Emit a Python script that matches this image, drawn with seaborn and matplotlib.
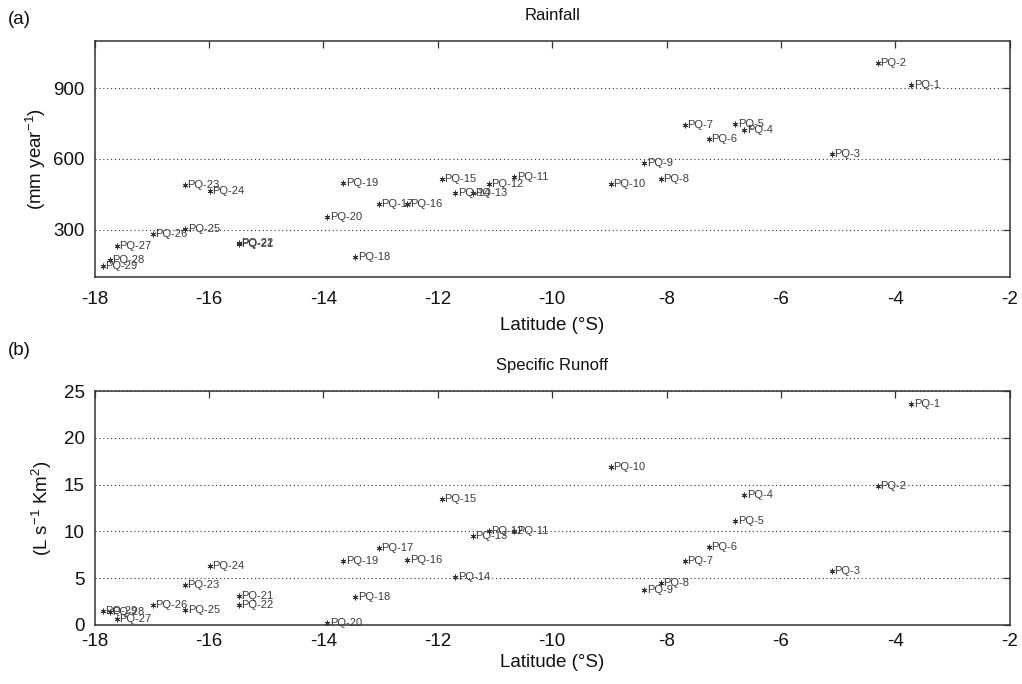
import matplotlib
matplotlib.use("Agg")
import matplotlib.pyplot as plt
import seaborn as sns
import pandas as pd
import numpy as np

stations = [f"PQ-{i}" for i in range(1, 30)]
latitude = [-3.72, -4.31, -5.11, -6.64, -6.80, -7.26, -7.68, -8.10, -8.39, -8.97,
            -10.66, -11.11, -11.39, -11.69, -11.93, -12.53, -13.03, -13.44, -13.65, -13.93,
            -15.48, -15.48, -16.42, -15.99, -16.41, -16.98, -17.61, -17.73, -17.85]
rainfall = [914, 1008, 620, 722, 747, 683, 744, 516, 584, 493,
            521, 495, 457, 457, 514, 410, 408, 185, 499, 354,
            238, 241, 488, 464, 304, 283, 231, 170, 145]
runoff = [23.6, 14.85, 5.8, 13.89, 11.14, 8.37, 6.87, 4.45, 3.74, 16.9,
          10.04, 10.04, 9.54, 5.09, 13.43, 6.94, 8.19, 3.03, 6.87, 0.25,
          3.10, 2.10, 4.27, 6.30, 1.60, 2.10, 0.64, 1.40, 1.50]

xticks = [-18, -16, -14, -12, -10, -8, -6, -4, -2]
rain_ticks = [300, 600, 900]
runoff_ticks = [0, 5, 10, 15, 20, 25]

df = pd.DataFrame({"station": stations, "lat": latitude,
                   "rain": rainfall, "runoff": runoff})

sns.set_theme(style="white")
plt.rcParams['font.family'] = ['Liberation Sans', 'DejaVu Sans']
plt.rcParams['mathtext.fontset'] = 'custom'
plt.rcParams['mathtext.rm'] = 'Liberation Sans'
plt.rcParams['mathtext.it'] = 'Liberation Sans'

fig = plt.figure(figsize=(10.22, 6.84), dpi=100)
ax1 = fig.add_axes([0.0925, 0.5955, 0.8955, 0.3446])
ax2 = fig.add_axes([0.0925, 0.0863, 0.8955, 0.342])

star = (6, 2, 0)

def style(ax, col, ylim, yticks, title, ylabel, ylpad, xpad, xlpad):
    sns.scatterplot(data=df, x="lat", y=col, ax=ax, marker=star, s=14,
                    color="#333333", edgecolor="#333333", linewidth=0.6, legend=False)
    for _, r in df.iterrows():
        ax.annotate(r["station"], (r["lat"], r[col]), xytext=(1.8, 0),
                    textcoords="offset points", va="center", ha="left",
                    fontsize=8, color="#3a3a3a")
    ax.set_xlim(-18, -2)
    ax.set_ylim(*ylim)
    ax.set_xticks(xticks)
    ax.set_xticklabels([str(t) for t in xticks])
    ax.set_yticks(yticks)
    ax.set_yticklabels([str(t) for t in yticks])
    ax.yaxis.grid(True, linestyle=(0, (1, 2.5)), color="#333333", linewidth=0.8)
    ax.xaxis.grid(False)
    ax.tick_params(direction="in", length=5, width=0.9, colors="#333333",
                   top=True, right=True, labelsize=13.5, pad=7, labelcolor="#111111")
    ax.tick_params(axis="x", pad=xpad)
    for s in ax.spines.values():
        s.set_color("#333333")
        s.set_linewidth(1.1)
    ax.set_xlabel("Latitude (°S)", fontsize=13.5, color="#111111", labelpad=xlpad)
    ax.set_ylabel(ylabel, fontsize=13.5, color="#111111", labelpad=ylpad)
    ax.set_title(title, fontsize=12, color="#111111", pad=15)
    ax.set_axisbelow(True)

style(ax1, "rain", (100, 1100), rain_ticks, "Rainfall", "(mm year$^{-1}$)", 4, 10, 7)
style(ax2, "runoff", (0, 25), runoff_ticks, "Specific Runoff", "(L s$^{-1}$ Km$^{2}$)", 7, 6, 3)

fig.text(0.008, 0.972, "(a)", fontsize=13.5, color="#111111", va="center", ha="left")
fig.text(0.008, 0.488, "(b)", fontsize=13.5, color="#111111", va="center", ha="left")

fig.savefig("out.png", dpi=100)
